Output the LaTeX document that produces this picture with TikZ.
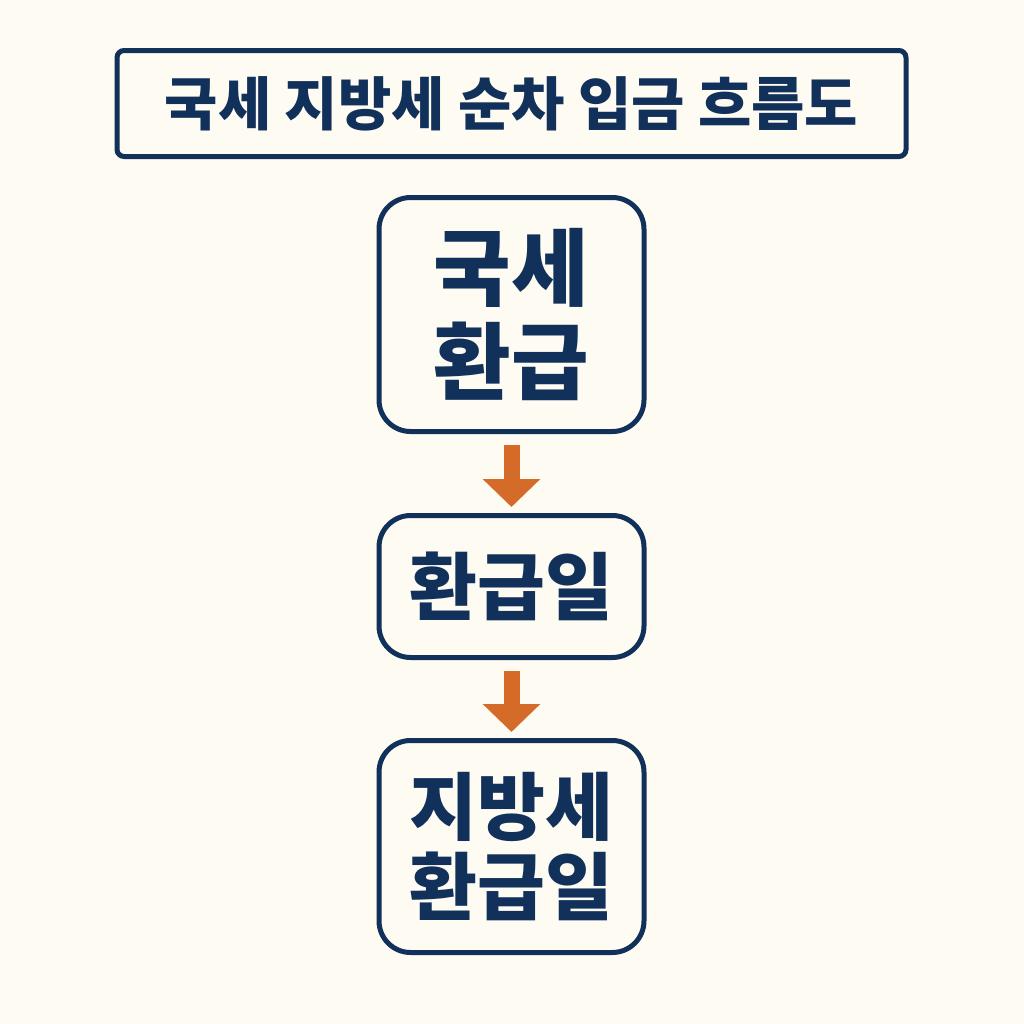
\documentclass[tikz,border=0pt]{standalone}
\usepackage{fontspec}
\usepackage{xcolor}
\usepackage{tikz}
\usetikzlibrary{arrows.meta,positioning}
\newfontfamily\krfont{Noto Sans CJK KR}
\definecolor{flowNavy}{HTML}{11305A}
\definecolor{flowOrange}{HTML}{D46B28}
\definecolor{flowCream}{HTML}{FEFBF3}

\begin{document}
\begin{tikzpicture}[
  node distance=0.36cm and 0.55cm,
  titlebox/.style={
    draw=flowNavy,
    line width=0.05cm,
    rounded corners=2pt,
    fill=flowCream,
    minimum width=7.89cm,
    minimum height=1.06cm,
    font=\krfont\bfseries\fontsize{16.5}{19}\selectfont,
    text=flowNavy
  },
  box/.style={
    draw=flowNavy,
    line width=0.05cm,
    rounded corners=9pt,
    fill=flowCream,
    minimum width=2.65cm,
    text width=2.5cm,
    align=center,
    inner sep=0pt,
    text=flowNavy
  },
  arrow/.style={
    -{Triangle[width=0.56cm,length=0.28cm]},
    line width=0.16cm,
    flowOrange,
    shorten <=0.11cm,
    shorten >=0.06cm
  }
]
  \fill[flowCream] (0,0) rectangle (10.24,-10.24);
  \useasboundingbox (0,0) rectangle (10.24,-10.24);

  \node[titlebox] (title) at (5.115,-1.035) {국세 지방세 순차 입금 흐름도};
  \node[box,below=of title,minimum height=2.34cm,
    font=\krfont\bfseries\fontsize{24}{27}\selectfont] (refund)
    {국세\\환급};
  \node[box,below=0.79cm of refund,minimum height=1.42cm,
    font=\krfont\bfseries\fontsize{21}{23}\selectfont] (day)
    {환급일};
  \node[box,below=0.78cm of day,minimum height=2.12cm,
    font=\krfont\bfseries\fontsize{21}{23}\selectfont] (localday)
    {지방세\\환급일};

  \draw[arrow] (refund.south)--(day.north);
  \draw[arrow] (day.south)--(localday.north);
\end{tikzpicture}
\end{document}
